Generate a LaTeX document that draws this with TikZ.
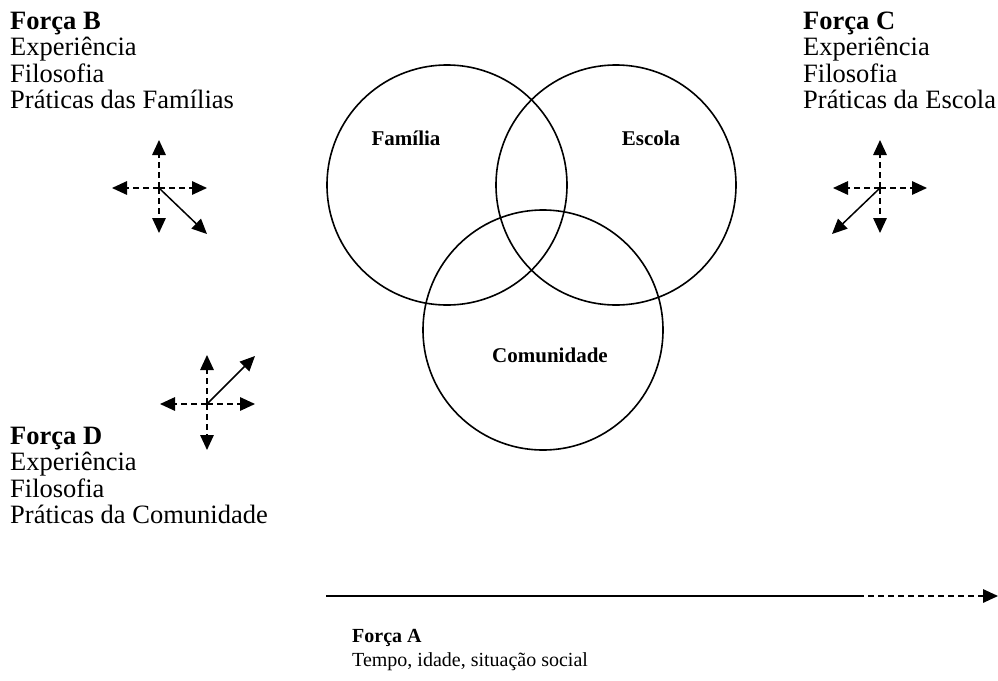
\documentclass[tikz,border=0pt]{standalone}
\usepackage{fontspec}
\setmainfont{Liberation Serif}
\usetikzlibrary{arrows.meta}
\begin{document}
\begin{tikzpicture}[x=1pt,y=-1pt,
  bigtxt/.style={font=\fontsize{26.5}{26.5}\selectfont, align=left, anchor=base west, inner sep=0pt},
  smalltxt/.style={font=\fontsize{20}{23.5}\selectfont, align=left, anchor=base west, inner sep=0pt},
  circlab/.style={font=\fontsize{21}{24}\selectfont\bfseries, inner sep=0pt},
  ring/.style={draw, circle, line width=1.6pt, minimum size=240pt, inner sep=0pt},
  tip/.style={-{Triangle[length=15pt,width=13.5pt]}},
  dasharm/.style={tip, line width=1.5pt, dash pattern=on 6pt off 4pt},
  solarm/.style={tip, line width=1.5pt}]
\useasboundingbox (0,0) rectangle (998,680);
% circles
\node[ring] (fam) at (447,185) {};
\node[ring] (esc) at (616,185) {};
\node[ring] (com) at (543,330) {};
\node[circlab] (famlab) at (406,138) {Família};
\node[circlab] (esclab) at (651,138) {Escola};
\node[circlab] (comlab) at (550,355) {Comunidade};
% texts (anchor at the baseline of the last line)
\node[bigtxt] (fb) at (10,108.5) {\textbf{Força B}\\Experiência\\Filosofia\\Práticas das Famílias};
\node[bigtxt] (fc) at (803,108.5) {\textbf{Força C}\\Experiência\\Filosofia\\Práticas da Escola};
\node[bigtxt] (fd) at (10,523.5) {\textbf{Força D}\\Experiência\\Filosofia\\Práticas da Comunidade};
\node[smalltxt] (fa) at (352,666) {\textbf{Força A}\\Tempo, idade, situação social};
% cross B
\coordinate (bc) at (159,188);
\coordinate (bu) at (159,140);
\coordinate (bd) at (159,233);
\coordinate (bl) at (112,188);
\coordinate (br) at (207,188);
\coordinate (bx) at (207,234);
\draw[dasharm] (bc) -- (bu);
\draw[dasharm] (bc) -- (bd);
\draw[dasharm] (bc) -- (bl);
\draw[dasharm] (bc) -- (br);
\draw[solarm] (bc) -- (bx);
% cross C
\coordinate (cc) at (880,188);
\coordinate (cu) at (880,140);
\coordinate (cd) at (880,233);
\coordinate (cl) at (833,188);
\coordinate (cr) at (927,188);
\coordinate (cx) at (832,234);
\draw[dasharm] (cc) -- (cu);
\draw[dasharm] (cc) -- (cd);
\draw[dasharm] (cc) -- (cl);
\draw[dasharm] (cc) -- (cr);
\draw[solarm] (cc) -- (cx);
% cross D
\coordinate (dc) at (207,404);
\coordinate (du) at (207,355);
\coordinate (dd) at (207,450);
\coordinate (dl) at (160,404);
\coordinate (dr) at (255,404);
\coordinate (dx) at (255,356);
\draw[dasharm] (dc) -- (du);
\draw[dasharm] (dc) -- (dd);
\draw[dasharm] (dc) -- (dl);
\draw[dasharm] (dc) -- (dr);
\draw[solarm] (dc) -- (dx);
% time arrow
\coordinate (ta) at (326,596);
\coordinate (tb) at (858,596);
\coordinate (tc) at (998,596);
\draw[line width=1.6pt] (ta) -- (tb);
\draw[dasharm] (tb) -- (tc);
\end{tikzpicture}
\end{document}
